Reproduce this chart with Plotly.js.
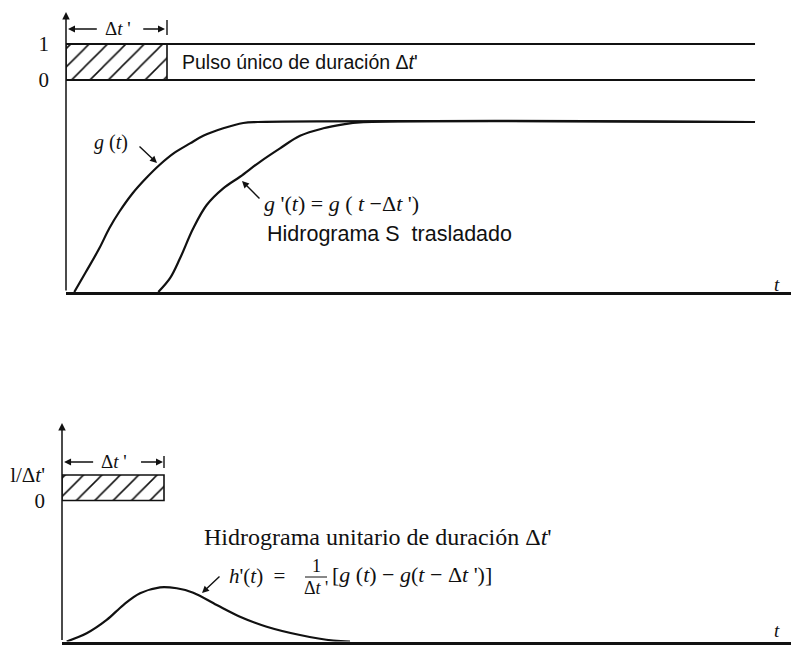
<!DOCTYPE html>
<html>
<head>
<meta charset="utf-8">
<script src="https://cdn.plot.ly/plotly-3.0.1.min.js"></script>
<style>
  html, body { margin: 0; padding: 0; background: #fff; }
  #chart { width: 791px; height: 647px; }
</style>
</head>
<body>
<div id="chart"></div>
<script>
// S-hydrograph g(t) and the same curve shifted by one pulse duration (time in units of Δt')
const gTime   = [0.082, 0.198, 0.330, 0.429, 0.528, 0.660, 0.792, 0.931, 1.079, 1.228, 1.359, 1.557, 1.755, 1.900, 6.822];
const gValue  = [0.000, 0.119, 0.257, 0.375, 0.472, 0.581, 0.669, 0.750, 0.821, 0.874, 0.919, 0.963, 0.994, 1.000, 1.000];
const gsTime  = [0.914, 1.030, 1.129, 1.260, 1.393, 1.557, 1.723, 1.921, 2.119, 2.317, 2.548, 2.746, 2.911, 6.822];
const gsValue = [0.000, 0.081, 0.198, 0.375, 0.512, 0.610, 0.678, 0.766, 0.845, 0.919, 0.963, 0.986, 0.998, 1.000];

// Unit hydrograph of duration Δt' (normalised to its peak)
const hTime  = [0.046, 0.242, 0.438, 0.601, 0.765, 0.961, 1.125, 1.287, 1.517, 1.745, 2.007, 2.333, 2.660, 2.824];
const hValue = [0.000, 0.151, 0.397, 0.673, 0.889, 1.000, 0.982, 0.900, 0.673, 0.458, 0.273, 0.120, 0.015, 0.000];

// Input pulses: single pulse of duration Δt'
const pulseStart = 0;
const pulseDuration = 1;
const pulseHeight = 1;
const pulseFrameTime = [0, 6.822];   // horizontal guide lines of the top pulse

const pulseTickVals  = [0, 1];
const topPulseTicks  = ['0', '1'];
const botPulseTicks  = ['0', 'l/Δ<i>t</i>\''];

const W = 791, H = 647;
const P = (x, y) => ({ x: x / W, y: 1 - y / H });
const SERIF = 'Liberation Serif, Times New Roman, serif';
const SANS  = 'Liberation Sans, Arial, sans-serif';
const INK = '#111';

const curve = (x, y, xa, ya) => ({
  type: 'scatter', mode: 'lines', x, y, xaxis: xa, yaxis: ya,
  line: { color: INK, width: 2.2, shape: 'spline', smoothing: 1 },
  hoverinfo: 'skip'
});

const pulseBar = (xa, ya) => ({
  type: 'bar', x: [pulseStart + pulseDuration / 2], y: [pulseHeight], base: [0],
  width: [pulseDuration], xaxis: xa, yaxis: ya,
  marker: {
    color: '#fff',
    line: { color: INK, width: 1.6 },
    pattern: { shape: '/', fgcolor: INK, bgcolor: '#fff', size: 13, solidity: 0.12 }
  },
  hoverinfo: 'skip'
});

const traces = [
  pulseBar('x', 'y3'),
  { type: 'scatter', mode: 'lines', x: pulseFrameTime, y: [pulseHeight, pulseHeight], xaxis: 'x', yaxis: 'y3',
    line: { color: INK, width: 2 }, hoverinfo: 'skip' },
  { type: 'scatter', mode: 'lines', x: pulseFrameTime, y: [0, 0], xaxis: 'x', yaxis: 'y3',
    line: { color: INK, width: 2 }, hoverinfo: 'skip' },
  curve(gTime, gValue, 'x', 'y'),
  curve(gsTime, gsValue, 'x', 'y'),
  pulseBar('x2', 'y4'),
  curve(hTime, hValue, 'x2', 'y2')
];

// axis geometry
const topY = [(H - 292) / H, (H - 12) / H];
const botY = [(H - 641.5) / H, (H - 423) / H];
const topSRange = [0, 280 / 170];
const topPRange = [-(292 - 80) / 36, -(292 - 80) / 36 + 280 / 36];
const botHRange = [0, 218.5 / 54.2];
const botPRange = [-(641.5 - 500.5) / 25.5, -(641.5 - 500.5) / 25.5 + 218.5 / 25.5];

const hidden = { showgrid: false, zeroline: false, showticklabels: false, ticks: '', showline: false, fixedrange: true };
const xBase = { showgrid: false, zeroline: false, showticklabels: false, ticks: '', showline: true,
                linecolor: INK, linewidth: 3, fixedrange: true };
const pulseAxis = (over, anchor, range, text) => ({
  overlaying: over, anchor, side: 'left', range,
  tickvals: pulseTickVals, ticktext: text, ticks: '', ticklabelstandoff: 16,
  tickfont: { family: SERIF, size: 21, color: INK },
  showgrid: false, zeroline: false, showline: false, fixedrange: true
});

const dtArrow = (xa, ya, yv, x0, x1) => ([
  { xref: xa, yref: ya, axref: xa, ayref: ya, x: x0, y: yv, ax: x0 + 0.30, ay: yv,
    text: '', showarrow: true, arrowhead: 2, arrowsize: 1, arrowwidth: 1.4, arrowcolor: INK },
  { xref: xa, yref: ya, axref: xa, ayref: ya, x: x1, y: yv, ax: x1 - 0.23, ay: yv,
    text: '', showarrow: true, arrowhead: 2, arrowsize: 1, arrowwidth: 1.4, arrowcolor: INK }
]);

const note = (x, y, text, font, anchor) => Object.assign(
  { xref: 'paper', yref: 'paper', text, showarrow: false, xanchor: anchor || 'left', yanchor: 'middle', font }, P(x, y));
const pointer = (hx, hy, ax, ay) => Object.assign(
  { xref: 'paper', yref: 'paper', text: '', showarrow: true, ax, ay,
    arrowhead: 2, arrowsize: 1, arrowwidth: 1.4, arrowcolor: INK }, P(hx, hy));

const serif = (s, italic) => ({ family: SERIF, size: s, color: INK, style: italic ? 'italic' : 'normal' });
const sans = s => ({ family: SANS, size: s, color: INK });

const annotations = [
  // vertical axes with arrow tips
  { xref: 'x', yref: 'y', axref: 'x', ayref: 'y', x: 0, y: topSRange[1], ax: 0, ay: 0,
    text: '', showarrow: true, arrowhead: 2, arrowsize: 1, arrowwidth: 1.5, arrowcolor: INK },
  { xref: 'x2', yref: 'y2', axref: 'x2', ayref: 'y2', x: 0, y: botHRange[1], ax: 0, ay: 0,
    text: '', showarrow: true, arrowhead: 2, arrowsize: 1, arrowwidth: 1.5, arrowcolor: INK },

  // Δt' dimension arrows
  ...dtArrow('x', 'y3', 1.417, 0.02, 0.98),
  ...dtArrow('x2', 'y4', 1.51, 0.02, 0.99),
  { xref: 'x', yref: 'y3', x: 0.515, y: 1.444, text: 'Δ<i>t</i> \'', showarrow: false,
    font: serif(19), xanchor: 'center', yanchor: 'middle', bgcolor: '#fff' },
  { xref: 'x2', yref: 'y4', x: 0.51, y: 1.51, text: 'Δ<i>t</i> \'', showarrow: false,
    font: serif(19), xanchor: 'center', yanchor: 'middle', bgcolor: '#fff' },

  // top panel labels
  note(180, 62, 'Pulso único de duración Δ<i>t</i>\'', sans(19.5)),
  note(92, 143, '<i>g</i> (<i>t</i>)', serif(20)),
  pointer(157, 163, -19, -18),
  note(262, 203, '<i>g</i> \'(<i>t</i>) = <i>g</i> ( <i>t</i> −Δ<i>t</i> \')', serif(22)),
  pointer(242, 181, 19, 19),
  note(265, 234, 'Hidrograma S  trasladado', sans(21.5)),
  note(777, 284, '<i>t</i>', serif(19), 'center'),

  // bottom panel labels
  note(202, 537, 'Hidrograma unitario de duración Δ<i>t</i>\'', serif(24)),
  note(227, 576, '<i>h</i>\'(<i>t</i>)  =', serif(21)),
  note(316, 566, '1', serif(18), 'center'),
  note(316, 588, 'Δ<i>t</i> \'', serif(18), 'center'),
  note(330, 574, '[<i>g</i> (<i>t</i>) − <i>g</i>(<i>t</i> − Δ<i>t</i> \')]', serif(22)),
  pointer(202, 593, 19, -18),
  note(777, 630, '<i>t</i>', serif(19), 'center')
];

const shapes = [
  // end ticks of the Δt' dimension lines
  { type: 'line', xref: 'x', yref: 'y3', x0: 1, x1: 1, y0: 1.25, y1: 1.667, line: { color: INK, width: 1.4 } },
  { type: 'line', xref: 'x2', yref: 'y4', x0: 1, x1: 1, y0: 1.275, y1: 1.745, line: { color: INK, width: 1.4 } },
  // fraction bar in h'(t)
  { type: 'line', xref: 'paper', yref: 'paper', line: { color: INK, width: 1 },
    x0: 305 / W, x1: 327 / W, y0: 1 - 577 / H, y1: 1 - 577 / H }
];

const layout = {
  width: W, height: H,
  margin: { l: 0, r: 0, t: 0, b: 0 },
  paper_bgcolor: '#fff', plot_bgcolor: '#fff',
  showlegend: false,
  barmode: 'overlay',
  xaxis:  Object.assign({}, xBase, { domain: [66 / W, 1], range: [0, 725 / 101], anchor: 'y' }),
  yaxis:  Object.assign({}, hidden, { domain: topY, range: topSRange, anchor: 'x' }),
  yaxis3: pulseAxis('y', 'x', topPRange, topPulseTicks),
  xaxis2: Object.assign({}, xBase, { domain: [62 / W, 1], range: [0, 729 / 102], anchor: 'y2' }),
  yaxis2: Object.assign({}, hidden, { domain: botY, range: botHRange, anchor: 'x2' }),
  yaxis4: pulseAxis('y2', 'x2', botPRange, botPulseTicks),
  annotations, shapes
};

Plotly.newPlot('chart', traces, layout, { staticPlot: true, displayModeBar: false });
</script>
</body>
</html>
